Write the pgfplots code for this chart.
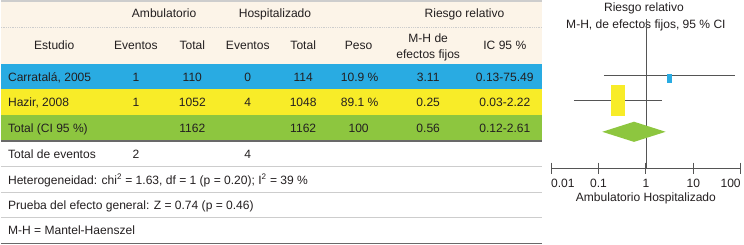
\documentclass[border=0pt]{standalone}
\usepackage{pgfplots}
\pgfplotsset{compat=1.18}
\usepackage{fontspec}
\setmainfont{Liberation Sans}
\definecolor{cblue}{RGB}{41,171,226}
\definecolor{cyellow}{RGB}{248,236,40}
\definecolor{cgreen}{RGB}{141,198,63}
\definecolor{cbeige}{RGB}{252,244,232}
\definecolor{ctext}{RGB}{35,31,32}
\definecolor{cline}{RGB}{205,205,205}
\definecolor{cdark}{RGB}{105,105,105}
\definecolor{caxis}{RGB}{85,85,85}
\newcommand{\f}{\fontsize{12}{14}\selectfont}
\begin{document}
\begin{tikzpicture}[font=\f]
% ---------------- table ----------------
\begin{axis}[at={(0,0)}, anchor=north west, scale only axis,
  width=744bp, height=259bp, xmin=0, xmax=744, ymin=0, ymax=259,
  y dir=reverse, hide axis, clip=false]
\fill[cbeige] (axis cs:3,14) rectangle (axis cs:540,77);
\fill[cblue] (axis cs:3,77) rectangle (axis cs:540,102);
\fill[cyellow] (axis cs:3,102) rectangle (axis cs:540,127);
\fill[cgreen] (axis cs:3,127) rectangle (axis cs:540,153);
\draw[cline, line width=1.5pt] (axis cs:3,14) -- (axis cs:540,14);
\draw[cline, line width=0.8pt, densely dotted] (axis cs:3,40) -- (axis cs:540,40);
\draw[cdark, line width=1.6pt] (axis cs:3,153) -- (axis cs:540,153);
\draw[cline, line width=0.8pt] (axis cs:3,178) -- (axis cs:540,178);
\draw[cline, line width=0.8pt] (axis cs:3,204) -- (axis cs:540,204);
\draw[cline, line width=0.8pt] (axis cs:3,229) -- (axis cs:540,229);
\draw[cdark, line width=1.6pt] (axis cs:3,255) -- (axis cs:540,255);
\begin{scope}[every node/.style={text=ctext, anchor=base, inner sep=0pt}]
% header row 1
\node at (axis cs:165,31) {Ambulatorio};
\node at (axis cs:275,31) {Hospitalizado};
\node at (axis cs:463,31) {Riesgo relativo};
% header row 2
\node at (axis cs:56,62) {Estudio};
\node at (axis cs:137,62) {Eventos};
\node at (axis cs:193,62) {Total};
\node at (axis cs:248,62) {Eventos};
\node at (axis cs:303,62) {Total};
\node at (axis cs:358,62) {Peso};
\node at (axis cs:427,55) {M-H de};
\node at (axis cs:427,71) {efectos fijos};
\node at (axis cs:503,62) {IC 95 \%};
% Carratala
\node[anchor=base west] at (axis cs:10,94) {Carratalá, 2005};
\node at (axis cs:137,94) {1};
\node at (axis cs:193,94) {110};
\node at (axis cs:248,94) {0};
\node at (axis cs:303,94) {114};
\node at (axis cs:359,94) {10.9 \%};
\node at (axis cs:427,94) {3.11};
\node at (axis cs:503,94) {0.13-75.49};
% Hazir
\node[anchor=base west] at (axis cs:10,119) {Hazir, 2008};
\node at (axis cs:137,119) {1};
\node at (axis cs:193,119) {1052};
\node at (axis cs:248,119) {4};
\node at (axis cs:303,119) {1048};
\node at (axis cs:359,119) {89.1 \%};
\node at (axis cs:427,119) {0.25};
\node at (axis cs:503,119) {0.03-2.22};
% Total
\node[anchor=base west] at (axis cs:10,145) {Total (CI 95 \%)};
\node at (axis cs:193,145) {1162};
\node at (axis cs:303,145) {1162};
\node at (axis cs:358,145) {100};
\node at (axis cs:427,145) {0.56};
\node at (axis cs:503,145) {0.12-2.61};
% footer
\node[anchor=base west] at (axis cs:10,170) {Total de eventos};
\node at (axis cs:137,170) {2};
\node at (axis cs:248,170) {4};
\node[anchor=base west] at (axis cs:10,196) {Heterogeneidad: chi\textsuperscript{2} = 1.63, df = 1 (p = 0.20); I\textsuperscript{2} = 39 \%};
\node[anchor=base west] at (axis cs:10,221) {Prueba del efecto general: Z = 0.74 (p = 0.46)};
\node[anchor=base west] at (axis cs:10,246) {M-H = Mantel-Haenszel};
% forest titles
\node at (axis cs:641,25) {Riesgo relativo};
\node at (axis cs:643,42) {M-H, de efectos fijos, 95 \% CI};
\node at (axis cs:643,213) {Ambulatorio Hospitalizado};
\end{scope}
\end{axis}
% ---------------- forest plot ----------------
\begin{axis}[at={(549bp,0)}, anchor=north west, scale only axis,
  width=188bp, height=259bp,
  xmode=log, xmin=0.01, xmax=100, ymin=-180, ymax=79, y dir=reverse,
  axis x line*=middle, axis y line=none,
  xtick={0.01,0.1,1,10,100},
  xticklabels={\makebox[0pt][l]{0.01},0.1,1,10,\makebox[0pt][r]{100}},
  xminorticks=false, major tick length=11bp, tick align=center,
  x axis line style={caxis, line width=1pt},
  xtick style={draw=caxis, line width=1.1pt},
  xticklabel style={font=\f, text=ctext, anchor=base, yshift=-14bp},
  clip=false]
\addplot[caxis, line width=0.8pt] coordinates {(1,-148) (1,0)};
\addplot[caxis, line width=0.8pt] coordinates {(0.13,-92) (75.49,-92)};
\addplot[caxis, line width=0.8pt] coordinates {(0.03,-67) (2.22,-67)};
\addplot[fill=cblue, draw=none] coordinates {(2.75,-93) (3.51,-93) (3.51,-84) (2.75,-84)} -- cycle;
\addplot[fill=cyellow, draw=none] coordinates {(0.18,-82) (0.357,-82) (0.357,-52) (0.18,-52)} -- cycle;
\addplot[fill=cgreen, draw=none] coordinates {(0.12,-36) (0.56,-46) (2.61,-36) (0.56,-26)} -- cycle;
\end{axis}
\end{tikzpicture}
\end{document}
